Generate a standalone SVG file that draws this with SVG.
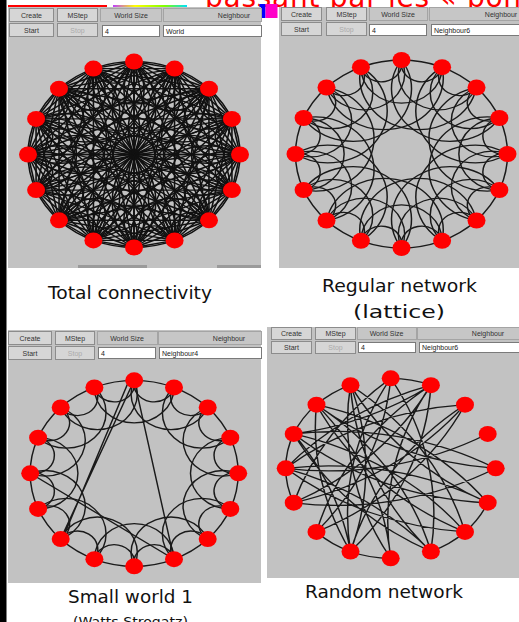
<svg xmlns="http://www.w3.org/2000/svg" xmlns:xlink="http://www.w3.org/1999/xlink" width="519" height="622" viewBox="0 0 519 622">
<defs>
<style>
.pn{fill:#c2c2c2}
.btn{fill:#d6d6d6;stroke:#8c8c8c;stroke-width:1}
.cell{fill:#c6c6c6;stroke:#a4a4a4;stroke-width:1}
.fld{fill:#ffffff;stroke:#7a7a7a;stroke-width:1}
.bt{font-family:"Liberation Sans",Arial,sans-serif;font-size:7px;fill:#333;text-anchor:middle}
.dis{fill:#ababab}
.ft{font-family:"Liberation Sans",Arial,sans-serif;font-size:7px;fill:#222}
.lb{font-family:"DejaVu Sans",Verdana,sans-serif;font-size:18.5px;fill:#111}
.nd{fill:#ff0000}
.e{fill:none;stroke:#1a1a1a;stroke-width:0.014}
.et{fill:none;stroke:#111;stroke-width:0.015}
</style>
<linearGradient id="rb" x1="0" x2="1" y1="0" y2="0">
<stop offset="0" stop-color="#c040ff"/><stop offset="0.3" stop-color="#ffff00"/><stop offset="0.7" stop-color="#80ff00"/><stop offset="1" stop-color="#00e0ff"/>
</linearGradient>
<clipPath id="topclip"><rect x="0" y="0" width="519" height="7"/></clipPath>
<g id="lat3">
<path d="M0,-1A0.19509,0.19509 0 0 0 0.38268,-0.92388M0,-1A0.38268,0.38268 0 0 0 0.70711,-0.70711M0,-1A0.55557,0.55557 0 0 0 0.92388,-0.38268"/>
</g>
<g id="sw2">
<path d="M0,-1A0.19509,0.19509 0 0 0 0.38268,-0.92388M0,-1A0.38268,0.38268 0 0 0 0.70711,-0.70711"/>
</g>
<g id="tc">
<use xlink:href="#lat3"/>
<path d="M0,-1A0.70711,0.70711 0 0 0 1,0"/>
<path d="M0,-1L0.38268,-0.92388M0,-1L0.70711,-0.70711M0,-1L0.92388,-0.38268M0,-1L1,0M0,-1L0.92388,0.38268M0,-1L0.70711,0.70711M0,-1L0.38268,0.92388M0,-1L0,1"/>
</g>
</defs>

<rect x="0" y="0" width="519" height="622" fill="#ffffff"/>
<rect x="0" y="0" width="6.5" height="622" fill="#000000"/>

<g clip-path="url(#topclip)">
<text x="205" y="6.5" font-family="DejaVu Sans, Verdana, sans-serif" font-size="28" fill="#ff0000" textLength="316" lengthAdjust="spacing">passant par les « bon</text>
</g>
<rect x="8" y="5" width="99" height="2" fill="#ff0000"/>
<rect x="113" y="5" width="74" height="2" fill="url(#rb)"/>
<rect x="259.5" y="4" width="6" height="14" fill="#0000ff"/>
<rect x="265.5" y="4" width="12" height="14" fill="#ff00c8"/>

<!-- Panel top-left -->
<g id="panel-tl">
<rect class="pn" x="8" y="7" width="253" height="261"/>
<rect class="btn" x="9.5" y="8.5" width="44" height="13"/><text class="bt" x="31.5" y="17.5">Create</text>
<rect class="btn" x="57.5" y="8.5" width="40" height="13"/><text class="bt" x="77.5" y="17.5">MStep</text>
<rect class="cell" x="100.5" y="8.5" width="61" height="13"/><text class="bt" x="131" y="17.5">World Size</text>
<rect class="cell" x="163.5" y="8.5" width="98" height="13"/><text class="bt" x="234" y="17.5">Neighbour</text>
<rect class="btn" x="9.5" y="23.5" width="44" height="13"/><text class="bt" x="31.5" y="32.5">Start</text>
<rect class="btn" x="57.5" y="23.5" width="40" height="13"/><text class="bt dis" x="77.5" y="32.5">Stop</text>
<rect class="fld" x="102.5" y="25.5" width="57" height="11"/><text class="ft" x="105" y="33.5">4</text>
<rect class="fld" x="163.5" y="25.5" width="98" height="11"/><text class="ft" x="166" y="33.5">World</text>
<rect x="78" y="265" width="69" height="3" fill="#9a9a9a"/>
<rect x="217" y="265" width="44" height="3" fill="#9a9a9a"/>
</g>

<!-- Panel top-right -->
<g id="panel-tr">
<rect class="pn" x="279" y="7" width="240" height="261"/>
<rect class="btn" x="281.5" y="7.5" width="40" height="13"/><text class="bt" x="301.5" y="16.5">Create</text>
<rect class="btn" x="326.5" y="7.5" width="40" height="13"/><text class="bt" x="346.5" y="16.5">MStep</text>
<rect class="cell" x="369.5" y="7.5" width="58" height="13"/><text class="bt" x="398" y="16.5">World Size</text>
<rect class="cell" x="429.5" y="7.5" width="92" height="13"/><text class="bt" x="501" y="16.5">Neighbour</text>
<rect class="btn" x="281.5" y="22.5" width="40" height="13"/><text class="bt" x="301.5" y="31.5">Start</text>
<rect class="btn" x="326.5" y="22.5" width="40" height="13"/><text class="bt dis" x="346.5" y="31.5">Stop</text>
<rect class="fld" x="369.5" y="24.5" width="57" height="11"/><text class="ft" x="372" y="32.5">4</text>
<rect class="fld" x="431.5" y="24.5" width="90" height="11"/><text class="ft" x="434" y="32.5">Neighbour6</text>
</g>

<!-- Panel bottom-left -->
<g id="panel-bl">
<rect class="pn" x="8" y="330" width="253" height="253"/>
<rect class="btn" x="8.5" y="331.5" width="43" height="13"/><text class="bt" x="30" y="340.5">Create</text>
<rect class="btn" x="55.5" y="331.5" width="39" height="13"/><text class="bt" x="75" y="340.5">MStep</text>
<rect class="cell" x="97.5" y="331.5" width="60" height="13"/><text class="bt" x="127" y="340.5">World Size</text>
<rect class="cell" x="158.5" y="331.5" width="103" height="13"/><text class="bt" x="229" y="340.5">Neighbour</text>
<rect class="btn" x="8.5" y="346.5" width="43" height="13"/><text class="bt" x="30" y="355.5">Start</text>
<rect class="btn" x="55.5" y="346.5" width="39" height="13"/><text class="bt dis" x="75" y="355.5">Stop</text>
<rect class="fld" x="98.5" y="347.5" width="57" height="11"/><text class="ft" x="101" y="355.5">4</text>
<rect class="fld" x="159.5" y="347.5" width="102" height="11"/><text class="ft" x="162" y="355.5">Neighbour4</text>
</g>

<!-- Panel bottom-right -->
<g id="panel-br">
<rect class="pn" x="267" y="327" width="252" height="251"/>
<rect class="btn" x="271.5" y="327.5" width="40" height="12"/><text class="bt" x="291.5" y="336">Create</text>
<rect class="btn" x="315.5" y="327.5" width="40" height="12"/><text class="bt" x="335.5" y="336">MStep</text>
<rect class="cell" x="357.5" y="327.5" width="59" height="12"/><text class="bt" x="386.5" y="336">World Size</text>
<rect class="cell" x="417.5" y="327.5" width="104" height="12"/><text class="bt" x="488" y="336">Neighbour</text>
<rect class="btn" x="271.5" y="341.5" width="40" height="12"/><text class="bt" x="291.5" y="350">Start</text>
<rect class="btn" x="315.5" y="341.5" width="40" height="12"/><text class="bt dis" x="335.5" y="350">Stop</text>
<rect class="fld" x="358.5" y="342.5" width="57" height="10"/><text class="ft" x="361" y="350">4</text>
<rect class="fld" x="419.5" y="342.5" width="102" height="10"/><text class="ft" x="422" y="350">Neighbour6</text>
</g>

<!-- Connectors -->
<g id="connectors">
<g id="edges-tl" class="et" transform="translate(134,154.5) scale(106,93)">
<circle cx="0" cy="0" r="1"/>
<use xlink:href="#tc"/><use xlink:href="#tc" transform="rotate(22.5)"/><use xlink:href="#tc" transform="rotate(45)"/><use xlink:href="#tc" transform="rotate(67.5)"/>
<use xlink:href="#tc" transform="rotate(90)"/><use xlink:href="#tc" transform="rotate(112.5)"/><use xlink:href="#tc" transform="rotate(135)"/><use xlink:href="#tc" transform="rotate(157.5)"/>
<use xlink:href="#tc" transform="rotate(180)"/><use xlink:href="#tc" transform="rotate(202.5)"/><use xlink:href="#tc" transform="rotate(225)"/><use xlink:href="#tc" transform="rotate(247.5)"/>
<use xlink:href="#tc" transform="rotate(270)"/><use xlink:href="#tc" transform="rotate(292.5)"/><use xlink:href="#tc" transform="rotate(315)"/><use xlink:href="#tc" transform="rotate(337.5)"/>
</g>
<g id="edges-tr" class="e" transform="translate(401.5,154) scale(106,94)">
<circle cx="0" cy="0" r="1"/>
<use xlink:href="#lat3"/><use xlink:href="#lat3" transform="rotate(22.5)"/><use xlink:href="#lat3" transform="rotate(45)"/><use xlink:href="#lat3" transform="rotate(67.5)"/>
<use xlink:href="#lat3" transform="rotate(90)"/><use xlink:href="#lat3" transform="rotate(112.5)"/><use xlink:href="#lat3" transform="rotate(135)"/><use xlink:href="#lat3" transform="rotate(157.5)"/>
<use xlink:href="#lat3" transform="rotate(180)"/><use xlink:href="#lat3" transform="rotate(202.5)"/><use xlink:href="#lat3" transform="rotate(225)"/><use xlink:href="#lat3" transform="rotate(247.5)"/>
<use xlink:href="#lat3" transform="rotate(270)"/><use xlink:href="#lat3" transform="rotate(292.5)"/><use xlink:href="#lat3" transform="rotate(315)"/><use xlink:href="#lat3" transform="rotate(337.5)"/>
</g>
<g id="edges-bl" class="e" transform="translate(134.2,473.3) scale(104,93)">
<circle cx="0" cy="0" r="1"/>
<use xlink:href="#sw2"/><use xlink:href="#sw2" transform="rotate(22.5)"/><use xlink:href="#sw2" transform="rotate(45)"/><use xlink:href="#sw2" transform="rotate(67.5)"/>
<use xlink:href="#sw2" transform="rotate(90)"/><use xlink:href="#sw2" transform="rotate(112.5)"/><use xlink:href="#sw2" transform="rotate(135)"/><use xlink:href="#sw2" transform="rotate(157.5)"/>
<use xlink:href="#sw2" transform="rotate(180)"/><use xlink:href="#sw2" transform="rotate(202.5)"/><use xlink:href="#sw2" transform="rotate(225)"/><use xlink:href="#sw2" transform="rotate(247.5)"/>
<use xlink:href="#sw2" transform="rotate(270)"/><use xlink:href="#sw2" transform="rotate(292.5)"/><use xlink:href="#sw2" transform="rotate(315)"/><use xlink:href="#sw2" transform="rotate(337.5)"/>
<path d="M0,-1L-0.707,0.707M-0.06,-0.97L-0.68,0.68M0,-1L0.383,0.924M-1,0L0.383,0.924"/>
</g>
<g id="edges-br" class="e" transform="translate(390.7,468.3) scale(105,90)">
<path d="M0,-1A1,1 0 0 1 .383,-.924M-.707,-.707A1,1 0 0 1 -.383,-.924M-.924,-.383A1,1 0 0 1 -.707,-.707M-1,0A1,1 0 0 1 -.924,-.383M-.924,.383A1,1 0 0 1 -1,0M-.383,.924A1,1 0 0 1 -.707,.707M0,1A1,1 0 0 1 -.383,.924M.707,.707A1,1 0 0 1 .383,.924M.924,.383A1,1 0 0 1 .707,.707"/>
<path d="M0,-1A3,3 0 0 0 -.383,.924M0,-1A3,3 0 0 1 .383,.924M0,-1A3,3 0 0 0 -.924,.383M0,-1A3,3 0 0 1 -.707,.707
M.383,-.924A3,3 0 0 1 -.383,.924M.383,-.924A3,3 0 0 0 -.707,.707M.383,-.924A3,3 0 0 1 -.924,.383M.383,-.924A3,3 0 0 0 -1,0M.383,-.924A3,3 0 0 1 -.924,-.383M.383,-.924A3,3 0 0 0 0,1
M.707,-.707A3,3 0 0 0 -.383,.924M.707,-.707A3,3 0 0 1 -.924,.383M.707,-.707A3,3 0 0 0 -1,0M.707,-.707A3,3 0 0 1 -.707,.707
M.924,-.383A3,3 0 0 1 -1,0
M1,0A3,3 0 0 0 -.924,-.383M1,0A3,3 0 0 1 -.707,-.707M1,0A3,3 0 0 1 -.924,.383
M.924,.383A3,3 0 0 1 -.924,-.383M.924,.383A3,3 0 0 0 -.707,-.707M.924,.383A3,3 0 0 0 -1,0M.924,.383A3,3 0 0 1 -.383,-.924
M.707,.707A3,3 0 0 1 -.707,-.707M.707,.707A3,3 0 0 0 -.924,-.383M.707,.707A3,3 0 0 0 -.383,-.924M.707,.707A3,3 0 0 1 -1,0
M.383,.924A3,3 0 0 1 -.383,-.924M.383,.924A3,3 0 0 0 -.707,-.707M.383,.924A3,3 0 0 1 -.924,-.383
M0,1A3,3 0 0 0 -.707,-.707M0,1A3,3 0 0 1 -.383,-.924
M-.383,.924A3,3 0 0 1 -.707,-.707M-.383,.924A3,3 0 0 0 -.383,-.924M-.383,.924A3,3 0 0 0 -.924,-.383
M-1,0A3,3 0 0 1 .383,.924"/>
</g>
</g>

<!-- Nodes top-left -->
<g id="tl-n0"><ellipse class="nd" cx="134" cy="61.5" rx="9" ry="8"/></g>
<g id="tl-n1"><ellipse class="nd" cx="174.6" cy="68.6" rx="9" ry="8"/></g>
<g id="tl-n2"><ellipse class="nd" cx="209" cy="88.7" rx="9" ry="8"/></g>
<g id="tl-n3"><ellipse class="nd" cx="231.9" cy="118.9" rx="9" ry="8"/></g>
<g id="tl-n4"><ellipse class="nd" cx="240" cy="154.5" rx="9" ry="8"/></g>
<g id="tl-n5"><ellipse class="nd" cx="231.9" cy="190.1" rx="9" ry="8"/></g>
<g id="tl-n6"><ellipse class="nd" cx="209" cy="220.3" rx="9" ry="8"/></g>
<g id="tl-n7"><ellipse class="nd" cx="174.6" cy="240.4" rx="9" ry="8"/></g>
<g id="tl-n8"><ellipse class="nd" cx="134" cy="247.5" rx="9" ry="8"/></g>
<g id="tl-n9"><ellipse class="nd" cx="93.4" cy="240.4" rx="9" ry="8"/></g>
<g id="tl-n10"><ellipse class="nd" cx="59" cy="220.3" rx="9" ry="8"/></g>
<g id="tl-n11"><ellipse class="nd" cx="36.1" cy="190.1" rx="9" ry="8"/></g>
<g id="tl-n12"><ellipse class="nd" cx="28" cy="154.5" rx="9" ry="8"/></g>
<g id="tl-n13"><ellipse class="nd" cx="36.1" cy="118.9" rx="9" ry="8"/></g>
<g id="tl-n14"><ellipse class="nd" cx="59" cy="88.7" rx="9" ry="8"/></g>
<g id="tl-n15"><ellipse class="nd" cx="93.4" cy="68.6" rx="9" ry="8"/></g>

<!-- Nodes top-right -->
<g id="tr-n0"><ellipse class="nd" cx="401.5" cy="60" rx="9" ry="8"/></g>
<g id="tr-n1"><ellipse class="nd" cx="442.1" cy="67.2" rx="9" ry="8"/></g>
<g id="tr-n2"><ellipse class="nd" cx="476.5" cy="87.5" rx="9" ry="8"/></g>
<g id="tr-n3"><ellipse class="nd" cx="499.4" cy="118" rx="9" ry="8"/></g>
<g id="tr-n4"><ellipse class="nd" cx="507.5" cy="154" rx="9" ry="8"/></g>
<g id="tr-n5"><ellipse class="nd" cx="499.4" cy="190" rx="9" ry="8"/></g>
<g id="tr-n6"><ellipse class="nd" cx="476.5" cy="220.5" rx="9" ry="8"/></g>
<g id="tr-n7"><ellipse class="nd" cx="442.1" cy="240.8" rx="9" ry="8"/></g>
<g id="tr-n8"><ellipse class="nd" cx="401.5" cy="248" rx="9" ry="8"/></g>
<g id="tr-n9"><ellipse class="nd" cx="360.9" cy="240.8" rx="9" ry="8"/></g>
<g id="tr-n10"><ellipse class="nd" cx="326.5" cy="220.5" rx="9" ry="8"/></g>
<g id="tr-n11"><ellipse class="nd" cx="303.6" cy="190" rx="9" ry="8"/></g>
<g id="tr-n12"><ellipse class="nd" cx="295.5" cy="154" rx="9" ry="8"/></g>
<g id="tr-n13"><ellipse class="nd" cx="303.6" cy="118" rx="9" ry="8"/></g>
<g id="tr-n14"><ellipse class="nd" cx="326.5" cy="87.5" rx="9" ry="8"/></g>
<g id="tr-n15"><ellipse class="nd" cx="360.9" cy="67.2" rx="9" ry="8"/></g>

<!-- Nodes bottom-left -->
<g id="bl-n0"><ellipse class="nd" cx="134.2" cy="380.3" rx="9" ry="8"/></g>
<g id="bl-n1"><ellipse class="nd" cx="174" cy="387.4" rx="9" ry="8"/></g>
<g id="bl-n2"><ellipse class="nd" cx="207.7" cy="407.5" rx="9" ry="8"/></g>
<g id="bl-n3"><ellipse class="nd" cx="230.3" cy="437.7" rx="9" ry="8"/></g>
<g id="bl-n4"><ellipse class="nd" cx="238.2" cy="473.3" rx="9" ry="8"/></g>
<g id="bl-n5"><ellipse class="nd" cx="230.3" cy="508.9" rx="9" ry="8"/></g>
<g id="bl-n6"><ellipse class="nd" cx="207.7" cy="539.1" rx="9" ry="8"/></g>
<g id="bl-n7"><ellipse class="nd" cx="174" cy="559.2" rx="9" ry="8"/></g>
<g id="bl-n8"><ellipse class="nd" cx="134.2" cy="566.3" rx="9" ry="8"/></g>
<g id="bl-n9"><ellipse class="nd" cx="94.4" cy="559.2" rx="9" ry="8"/></g>
<g id="bl-n10"><ellipse class="nd" cx="60.7" cy="539.1" rx="9" ry="8"/></g>
<g id="bl-n11"><ellipse class="nd" cx="38.1" cy="508.9" rx="9" ry="8"/></g>
<g id="bl-n12"><ellipse class="nd" cx="30.2" cy="473.3" rx="9" ry="8"/></g>
<g id="bl-n13"><ellipse class="nd" cx="38.1" cy="437.7" rx="9" ry="8"/></g>
<g id="bl-n14"><ellipse class="nd" cx="60.7" cy="407.5" rx="9" ry="8"/></g>
<g id="bl-n15"><ellipse class="nd" cx="94.4" cy="387.4" rx="9" ry="8"/></g>

<!-- Nodes bottom-right -->
<g id="br-n0"><ellipse class="nd" cx="390.7" cy="378.3" rx="9" ry="8"/></g>
<g id="br-n1"><ellipse class="nd" cx="430.9" cy="385.2" rx="9" ry="8"/></g>
<g id="br-n2"><ellipse class="nd" cx="465" cy="404.7" rx="9" ry="8"/></g>
<g id="br-n3"><ellipse class="nd" cx="487.7" cy="433.9" rx="9" ry="8"/></g>
<g id="br-n4"><ellipse class="nd" cx="495.7" cy="468.3" rx="9" ry="8"/></g>
<g id="br-n5"><ellipse class="nd" cx="487.7" cy="502.7" rx="9" ry="8"/></g>
<g id="br-n6"><ellipse class="nd" cx="465" cy="531.9" rx="9" ry="8"/></g>
<g id="br-n7"><ellipse class="nd" cx="430.9" cy="551.5" rx="9" ry="8"/></g>
<g id="br-n8"><ellipse class="nd" cx="390.7" cy="558.3" rx="9" ry="8"/></g>
<g id="br-n9"><ellipse class="nd" cx="350.5" cy="551.5" rx="9" ry="8"/></g>
<g id="br-n10"><ellipse class="nd" cx="316.5" cy="531.9" rx="9" ry="8"/></g>
<g id="br-n11"><ellipse class="nd" cx="293.7" cy="502.7" rx="9" ry="8"/></g>
<g id="br-n12"><ellipse class="nd" cx="285.7" cy="468.3" rx="9" ry="8"/></g>
<g id="br-n13"><ellipse class="nd" cx="293.7" cy="433.9" rx="9" ry="8"/></g>
<g id="br-n14"><ellipse class="nd" cx="316.5" cy="404.7" rx="9" ry="8"/></g>
<g id="br-n15"><ellipse class="nd" cx="350.5" cy="385.2" rx="9" ry="8"/></g>

<!-- Captions -->
<text class="lb" x="48" y="299" textLength="164" lengthAdjust="spacingAndGlyphs">Total connectivity</text>
<text class="lb" x="322" y="292" textLength="155" lengthAdjust="spacingAndGlyphs">Regular network</text>
<text class="lb" x="353" y="318" textLength="92" lengthAdjust="spacingAndGlyphs">(lattice)</text>
<text class="lb" x="68" y="603" textLength="125" lengthAdjust="spacingAndGlyphs">Small world 1</text>
<text class="lb" x="305" y="598" textLength="158" lengthAdjust="spacingAndGlyphs">Random network</text>
<text class="lb" x="73" y="625.5" textLength="115" lengthAdjust="spacingAndGlyphs" style="font-size:12.5px">(Watts Strogatz)</text>
</svg>
